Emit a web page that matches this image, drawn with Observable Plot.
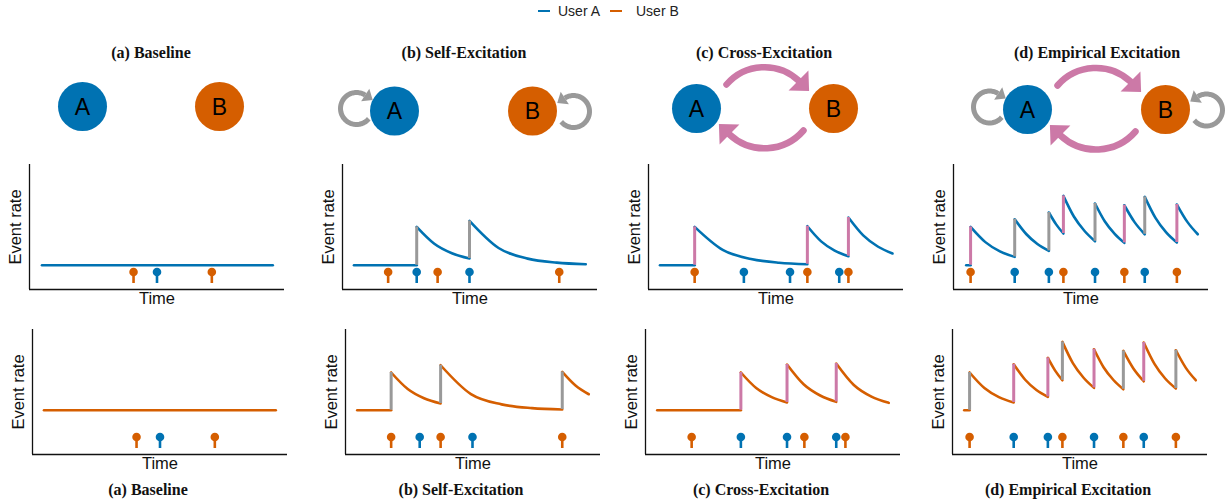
<!DOCTYPE html>
<html><head><meta charset="utf-8">
<script src="https://cdn.jsdelivr.net/npm/d3@7"></script>
<script src="https://cdn.jsdelivr.net/npm/@observablehq/plot@0.6"></script>
<style>
body{margin:0;background:#fff;}
#root{position:relative;width:1231px;height:504px;overflow:hidden;background:#fff;font-family:"Liberation Sans",Arial,sans-serif;}
.abs{position:absolute;}
.title{position:absolute;font-family:"Liberation Serif","Times New Roman",serif;font-weight:bold;font-size:16px;transform:translate(-50%,-50%);white-space:nowrap;color:#111;}
.leg{position:absolute;font-size:14px;transform:translateY(-50%);white-space:nowrap;color:#222;}
.dash{position:absolute;height:2.6px;width:12px;}
</style></head><body><div id="root"></div><script>
// ---------- data ----------
const BLUE="#0072B2", ORANGE="#D55E00", GRAY="#999999", PINK="#CC79A7";
const panelTitles = ["(a) Baseline","(b) Self-Excitation","(c) Cross-Excitation","(d) Empirical Excitation"];
const userNames = ["User A","User B"];
const nodeLabels = ["A","B"];
const selfLoops = [false,true,false,true];
const crossLinks = [false,false,true,true];
const xLabel = "Time", yLabel = "Event rate";

// event times per panel (0-100 time units)
const eventsA = [[50.0],[29.1,49.8],[37.4,55.5,74.8],[24.0,37.4,55.5,75.0]];
const eventsB = [[40.8,71.5],[17.9,37.3,85.0],[18.1,62.3,78.4],[6.7,43.1,67.0,87.6]];

// event-rate curves: list of segments between jumps, [time, rate]
const curvesA = [
 [[[4.9,19.4],[95.4,19.4]]],
 [[[4.5,19.4],[29.1,19.4]],
  [[29.1,50.1],[36.0,36.6],[42.9,29.0],[49.8,24.8]],
  [[49.8,54.9],[61.2,33.2],[72.6,24.7],[84.0,21.5],[95.4,20.2]]],
 [[[4.5,19.4],[18.1,19.4]],
  [[18.1,50.1],[29.1,31.7],[40.2,24.4],[51.2,21.4],[62.3,20.2]],
  [[62.3,50.6],[67.7,38.5],[73.0,31.1],[78.4,26.6]],
  [[78.4,57.6],[84.2,43.3],[89.9,34.4],[95.7,28.8]]],
 [[[5.0,19.4],[6.7,19.4]],
  [[6.7,50.1],[12.5,37.9],[18.2,30.5],[24.0,26.1]],
  [[24.0,56.2],[28.5,44.4],[32.9,36.4],[37.4,30.9]],
  [[37.4,61.6],[40.25,52.1],[43.1,44.8]],
  [[43.1,74.9],[47.2,58.4],[51.4,46.8],[55.5,38.6]],
  [[55.5,68.8],[59.3,54.6],[63.2,44.5],[67.0,37.3]],
  [[67.0,67.4],[71.0,53.9],[75.0,44.2]],
  [[75.0,74.1],[79.2,57.3],[83.4,45.7],[87.6,37.6]],
  [[87.6,68.0],[91.7,54.1],[95.8,44.2]]]
];
const curvesB = [
 [[[4.5,35.4],[95.4,35.4]]],
 [[[4.6,35.4],[17.9,35.4]],
  [[17.9,65.6],[24.4,52.4],[30.8,45.0],[37.3,40.8]],
  [[37.3,71.4],[49.2,48.3],[61.2,40.1],[73.1,37.1],[85.0,36.0]],
  [[85.0,66.1],[90.2,55.2],[95.4,48.2]]],
 [[[4.6,35.4],[37.4,35.4]],
  [[37.4,65.6],[43.4,53.2],[49.5,45.9],[55.5,41.6]],
  [[55.5,72.0],[62.0,56.2],[68.5,47.2],[74.8,42.1]],
  [[74.8,72.8],[81.7,55.6],[88.6,46.3],[95.4,41.3]]],
 [[[4.6,35.4],[6.7,35.4]],
  [[6.7,65.6],[12.5,53.2],[18.2,45.9],[24.0,41.6]],
  [[24.0,72.2],[28.5,59.8],[32.9,51.6],[37.4,46.1]],
  [[37.4,77.3],[40.25,67.1],[43.1,59.4]],
  [[43.1,90.1],[47.2,73.1],[51.4,61.4],[55.5,53.3]],
  [[55.5,84.2],[59.3,69.6],[63.2,59.4],[67.0,52.2]],
  [[67.0,82.9],[71.0,68.6],[75.0,58.6]],
  [[75.0,89.6],[79.2,72.5],[83.4,60.8],[87.6,52.8]],
  [[87.6,83.4],[91.5,69.3],[95.4,59.4]]]
];

// ---------- layout ----------
const root = document.getElementById("root");
const topTitleX = [151,464,764,1097], bottomTitleX = [148,461,761,1068];
const nodeXY = [[82,106,219,106],[394,110.5,532,110.5],[696,108,833,108],[1027,109,1165,109]];
const axisX = [[29.3,341.7,647.7,953.3],[31.7,345,645,951.7]];
const axisTop = [164,329.3];
const ML=30, MT=2, FW=255, FH=125, MB=33, MR=5;
const FONT = "'Liberation Sans',Arial,sans-serif";

function place(el, left, top){
  const d=document.createElement("div"); d.className="abs"; d.style.left=left+"px"; d.style.top=top+"px";
  d.appendChild(el); root.appendChild(d); return d;
}
function html(cls, text, left, top, extra){
  const d=document.createElement("div"); d.className=cls; d.textContent=text;
  d.style.left=left+"px"; d.style.top=top+"px"; if(extra) Object.assign(d.style, extra); root.appendChild(d); return d;
}

// legend
[[538,BLUE],[610,ORANGE]].forEach(([x,c],i)=>{
  const s=document.createElement("div"); s.className="dash"; s.style.left=x+"px"; s.style.top="9.7px"; s.style.background=c; root.appendChild(s);
  html("leg", userNames[i], x+20+(i?6:0), 11);
});

// titles
panelTitles.forEach((t,i)=>{ html("title", t, topTitleX[i], 53); html("title", t, bottomTitleX[i], 490); });

// ---------- charts ----------
function chart(p,u){
  const color = u===0?BLUE:ORANGE;
  const segs = (u===0?curvesA:curvesB)[p];
  const own = (u===0?eventsA:eventsB)[p];
  const pts = segs.flatMap((s,i)=>s.map(([t,r])=>({t,r,seg:i})));
  const jumps = segs.slice(1).map((s,i)=>{const prev=segs[i]; const t=s[0][0];
    return {t, r1: prev[prev.length-1][1], r2: s[0][1], self: own.some(e=>Math.abs(e-t)<0.6)};});
  const evA = eventsA[p].map(t=>({t})), evB = eventsB[p].map(t=>({t}));
  return Plot.plot({
    width: ML+FW+MR, height: MT+FH+MB, marginLeft: ML, marginRight: MR, marginTop: MT, marginBottom: MB,
    x:{domain:[0,100],axis:null}, y:{domain:[0,100],axis:null},
    style:{background:"none",overflow:"visible",fontFamily:FONT},
    marks:[
      Plot.ruleX([0],{stroke:"#111",strokeWidth:1.3}),
      Plot.ruleY([0],{stroke:"#111",strokeWidth:1.3}),
      Plot.line(pts,{x:"t",y:"r",z:"seg",stroke:color,strokeWidth:2.6,curve:"monotone-x"}),
      Plot.ruleX(jumps.filter(d=>d.self),{x:"t",y1:"r1",y2:"r2",stroke:GRAY,strokeWidth:3}),
      Plot.ruleX(jumps.filter(d=>!d.self),{x:"t",y1:"r1",y2:"r2",stroke:PINK,strokeWidth:3}),
      Plot.ruleX(evA,{x:"t",y1:4.8,y2:14,stroke:BLUE,strokeWidth:2.6}),
      Plot.ruleX(evB,{x:"t",y1:4.8,y2:14,stroke:ORANGE,strokeWidth:2.6}),
      Plot.dot(evA,{x:"t",y:14,r:4.3,fill:BLUE}),
      Plot.dot(evB,{x:"t",y:14,r:4.3,fill:ORANGE}),
      Plot.text([0],{text:()=>yLabel,frameAnchor:"left",textAnchor:"middle",rotate:-90,dx:-14,fontSize:16.5,fill:"#111"}),
      Plot.text([0],{text:()=>xLabel,frameAnchor:"bottom",textAnchor:"middle",dy:14,fontSize:16.5,fill:"#111"})
    ]
  });
}
for(let u=0;u<2;u++) for(let p=0;p<4;p++){
  place(chart(p,u), axisX[u][p]-ML, axisTop[u]-MT);
}

// ---------- diagrams ----------
const nodes = nodeXY.flatMap((n,p)=>[{p,u:0,x:n[0],y:n[1],label:nodeLabels[0]},{p,u:1,x:n[2],y:n[3],label:nodeLabels[1]}]);
const loops=[], loopHeads=[], arrows=[], arrowHeads=[];
function tri(arr,id,bx,by,dx,dy,len,hw){
  const px=-dy, py=dx;
  arr.push({id,x:bx+px*hw,y:by+py*hw},{id,x:bx+dx*len,y:by+dy*len},{id,x:bx-px*hw,y:by-py*hw});
}
const rad=Math.PI/180;
nodeXY.forEach((n,p)=>{
  const [ax,ay,bx,by]=n;
  if(selfLoops[p]){
    let cx=ax-38, cy=ay-2.5, r=16, a0=40, a1=303;
    d3.range(41).forEach(i=>{const a=(a0+(a1-a0)*i/40)*rad; loops.push({id:"A"+p,x:cx+r*Math.cos(a),y:cy+r*Math.sin(a)});});
    let a=a1*rad; tri(loopHeads,"A"+p,cx+r*Math.cos(a),cy+r*Math.sin(a),-Math.sin(a),Math.cos(a),9,7.5);
    cx=bx+41; cy=by+0.5; a0=140; a1=-123;
    d3.range(41).forEach(i=>{const a=(a0+(a1-a0)*i/40)*rad; loops.push({id:"B"+p,x:cx+r*Math.cos(a),y:cy+r*Math.sin(a)});});
    a=a1*rad; tri(loopHeads,"B"+p,cx+r*Math.cos(a),cy+r*Math.sin(a),Math.sin(a),-Math.cos(a),9,7.5);
  }
  if(crossLinks[p]){
    const s=Math.SQRT1_2;
    arrows.push({x1:ax+30,y1:ay-24,x2:bx-35,y2:by-28});
    tri(arrowHeads,"t"+p,bx-35,by-28,s,s,15,14);
    arrows.push({x1:bx-30,y1:by+22,x2:ax+33,y2:ay+26});
    tri(arrowHeads,"b"+p,ax+33,ay+26,-s,-s,15,14);
  }
});
const diagram = Plot.plot({
  width:1231, height:110, margin:0,
  x:{domain:[0,1231],axis:null}, y:{domain:[165,55],axis:null},
  style:{background:"none",overflow:"visible",fontFamily:FONT},
  marks:[
    Plot.arrow(arrows,{x1:"x1",y1:"y1",x2:"x2",y2:"y2",bend:46,stroke:PINK,strokeWidth:6.5,headLength:0}),
    Plot.line(arrowHeads,{x:"x",y:"y",z:"id",fill:PINK,stroke:"none"}),
    Plot.line(loops,{x:"x",y:"y",z:"id",stroke:GRAY,strokeWidth:5,strokeLinecap:"butt"}),
    Plot.line(loopHeads,{x:"x",y:"y",z:"id",fill:GRAY,stroke:"none"}),
    Plot.dot(nodes.filter(d=>d.u===0),{x:"x",y:"y",r:24.5,fill:BLUE}),
    Plot.dot(nodes.filter(d=>d.u===1),{x:"x",y:"y",r:24.5,fill:ORANGE}),
    Plot.text(nodes,{x:"x",y:"y",text:"label",fontSize:23,fill:"#000",dy:1})
  ]
});
place(diagram, 0, 55);
</script></body></html>
